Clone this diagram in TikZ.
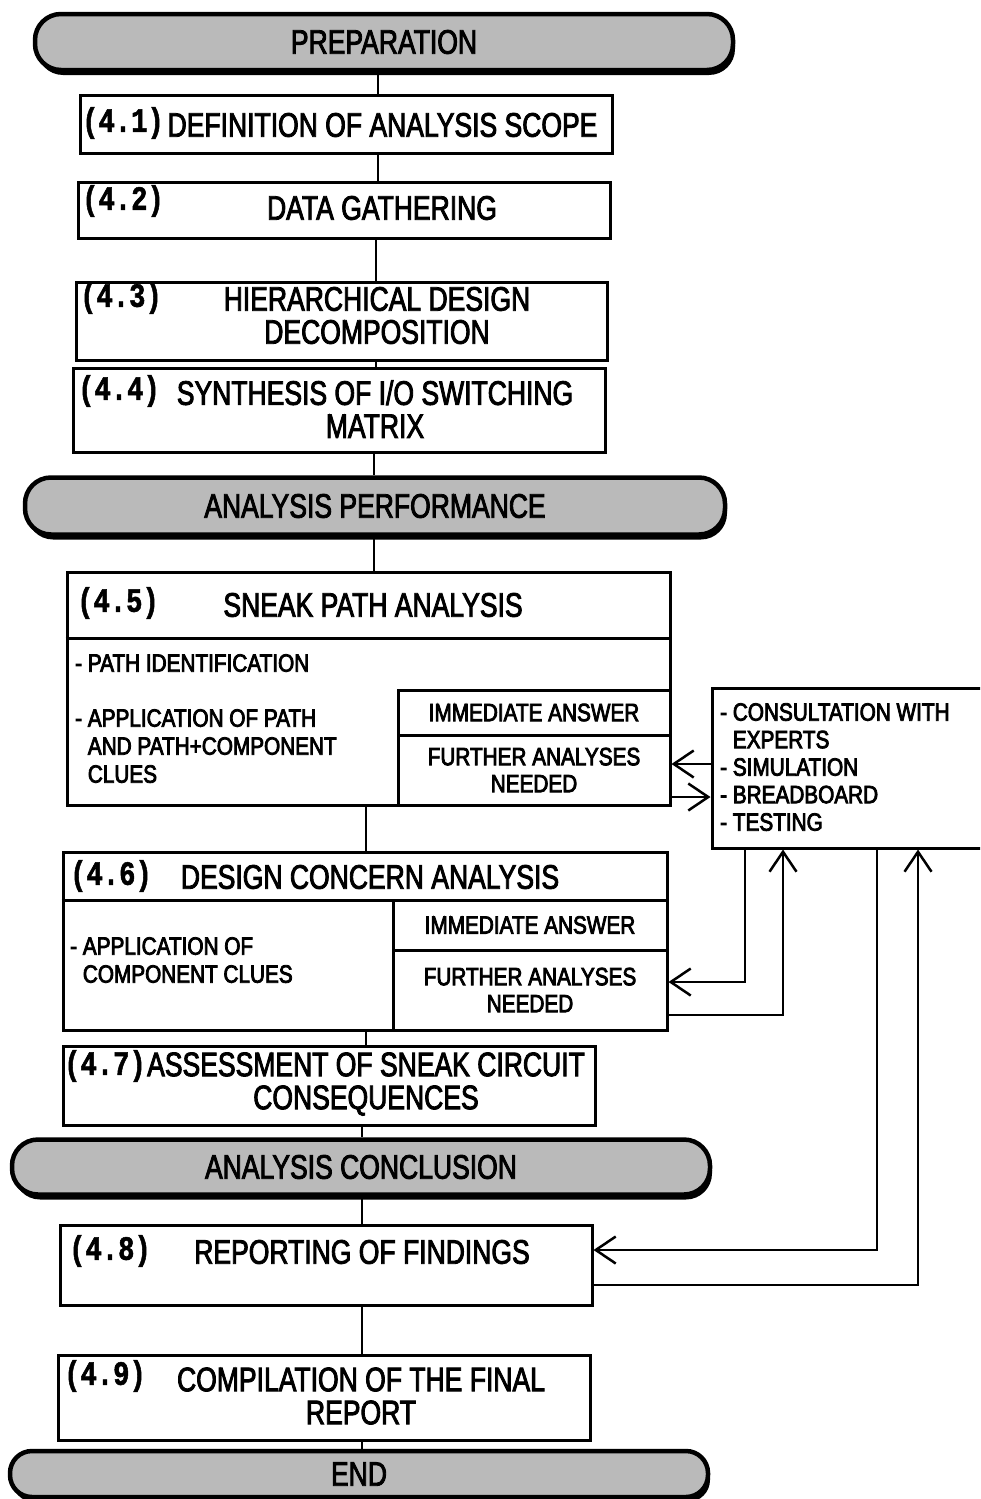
\documentclass[tikz,border=0pt]{standalone}
\usepackage{fontspec}
\usetikzlibrary{arrows.meta,shadows}
\newfontfamily\condfont{Liberation Sans}[FakeStretch=0.78, FakeBold=2.5]
\newfontfamily\bodyfont{Liberation Sans}[FakeStretch=0.83, FakeBold=3.2]
\newfontfamily\numfont{Liberation Mono}[FakeStretch=0.8, FakeBold=1.5]

\tikzset{
  box/.style={draw, line width=3pt, inner sep=0pt},
  term/.style={draw, line width=4.5pt, fill=black!27, inner sep=0pt,
    font=\condfont\fontsize{34}{35}\selectfont,
    drop shadow={shadow xshift=2pt, shadow yshift=-5pt, fill=black, opacity=1}},
  main/.style={font=\condfont\fontsize{34}{33}\selectfont, align=center, inner sep=0pt},
  num/.style={font=\numfont\bfseries\fontsize{34}{36}\selectfont, anchor=west, inner sep=0pt},
  body/.style={font=\bodyfont\fontsize{25}{28}\selectfont, align=left, inner sep=0pt, anchor=north west},
  cell/.style={font=\bodyfont\fontsize{25}{27}\selectfont, align=center, inner sep=0pt},
  conn/.style={line width=2.5pt},
  arr/.style={line width=2.5pt, -{Straight Barb[length=20pt,width=27pt]}},
}

\begin{document}
\begin{tikzpicture}[x=1pt, y=-1pt]
\useasboundingbox (0,0) rectangle (980,1499);
\fill[white] (0,0) rectangle (980,1499);
\clip (0,0) rectangle (980,1499);

% phase terminators
\node[term, minimum width=698pt, minimum height=56pt, rounded corners=26pt] (prep) at (384,42) {PREPARATION};
\node[term, minimum width=700pt, minimum height=57pt, rounded corners=26pt] (perf) at (375,506) {ANALYSIS PERFORMANCE};
\node[term, minimum width=698pt, minimum height=55pt, rounded corners=26pt] (concl) at (361,1167) {ANALYSIS CONCLUSION};
\node[term, minimum width=698pt, minimum height=46pt, rounded corners=22pt] (finish) at (359,1474) {END};

% preparation steps
\node[box, minimum width=532pt, minimum height=58pt] (b41) at (346,124) {};
\node[num] (n41) at (82,123) {(4.1)};
\node[main] (t41) at (382.5,125) {DEFINITION OF ANALYSIS SCOPE};

\node[box, minimum width=532pt, minimum height=56pt] (b42) at (344,210) {};
\node[num] (n42) at (82,201) {(4.2)};
\node[main] (t42) at (382,208) {DATA GATHERING};

\node[box, minimum width=531pt, minimum height=78pt] (b43) at (341.5,321) {};
\node[num] (n43) at (80,298) {(4.3)};
\node[main] (t43) at (377,315.5) {HIERARCHICAL DESIGN\\DECOMPOSITION};

\node[box, minimum width=532pt, minimum height=84pt] (b44) at (339,410) {};
\node[num] (n44) at (78,391) {(4.4)};
\node[main] (t44) at (375,409) {SYNTHESIS OF I/O SWITCHING\\MATRIX};

% sneak path analysis
\node[box, minimum width=603pt, minimum height=233pt] (b45) at (368.5,688.5) {};
\draw[line width=3pt] (b45.west |- 0,638) -- (b45.east |- 0,638);
\node[num] (n45) at (77,603) {(4.5)};
\node[main] (t45) at (373,605) {SNEAK PATH ANALYSIS};
\node[body] (p45a) at (75,654) {- PATH IDENTIFICATION};
\node[body] (p45b) at (75,709) {- APPLICATION OF PATH\\\phantom{- }AND PATH+COMPONENT\\\phantom{- }CLUES};
\node[box, cell, minimum width=272pt, minimum height=45pt] (b45a) at (534,712.5) {IMMEDIATE ANSWER};
\node[box, cell, minimum width=272pt, minimum height=70pt] (b45b) at (534,770) {FURTHER ANALYSES\\NEEDED};

% further analyses
\node[box, minimum width=288pt, minimum height=160pt] (side) at (856,768) {};
\node[body, font=\bodyfont\fontsize{25}{27.5}\selectfont] (sidetext) at (720,703) {- CONSULTATION WITH\\\phantom{- }EXPERTS\\- SIMULATION\\- BREADBOARD\\- TESTING};

% design concern analysis
\node[box, minimum width=604pt, minimum height=178pt] (b46) at (365,941) {};
\draw[line width=3pt] (b46.west |- 0,900) -- (b46.east |- 0,900);
\node[num] (n46) at (70,876) {(4.6)};
\node[main] (t46) at (370,877) {DESIGN CONCERN ANALYSIS};
\node[body] (p46) at (70,937) {- APPLICATION OF\\\phantom{- }COMPONENT CLUES};
\node[box, cell, minimum width=274pt, minimum height=50pt] (b46a) at (530,925) {IMMEDIATE ANSWER};
\node[box, cell, minimum width=274pt, minimum height=80pt] (b46b) at (530,990) {FURTHER ANALYSES\\NEEDED};

% assessment
\node[box, minimum width=532pt, minimum height=79pt] (b47) at (329,1085.5) {};
\node[num] (n47) at (64,1066) {(4.7)};
\node[main] (t47) at (366,1084) {ASSESSMENT OF SNEAK CIRCUIT\\CONSEQUENCES};

% reporting
\node[box, minimum width=532pt, minimum height=80pt] (b48) at (326,1265) {};
\node[num] (n48) at (69,1251) {(4.8)};
\node[main] (t48) at (362,1252) {REPORTING OF FINDINGS};

\node[box, minimum width=532pt, minimum height=85pt] (b49) at (324,1397.5) {};
\node[num] (n49) at (64,1376) {(4.9)};
\node[main] (t49) at (361,1396) {COMPILATION OF THE FINAL\\REPORT};

% main flow
\coordinate (sA) at (378,0);
\coordinate (sB) at (376,0);
\coordinate (sC) at (374,0);
\coordinate (sD) at (366,0);
\coordinate (sE) at (362,0);
\draw[conn] (prep.south -| sA) -- (b41.north -| sA);
\draw[conn] (b41.south -| sA) -- (b42.north -| sA);
\draw[conn] (b42.south -| sB) -- (b43.north -| sB);
\draw[conn] (b43.south -| sB) -- (b44.north -| sB);
\draw[conn] (b44.south -| sC) -- (perf.north -| sC);
\draw[conn] (perf.south -| sC) -- (b45.north -| sC);
\draw[conn] (b45.south -| sD) -- (b46.north -| sD);
\draw[conn] (b46.south -| sD) -- (b47.north -| sD);
\draw[conn] (b47.south -| sE) -- (concl.north -| sE);
\draw[conn] (concl.south -| sE) -- (b48.north -| sE);
\draw[conn] (b48.south -| sE) -- (b49.north -| sE);
\draw[conn] (b49.south -| sE) -- (finish.north -| sE);

% feedback loops
\coordinate (fa) at (745,0);
\coordinate (fb) at (783,0);
\coordinate (fc) at (877,0);
\coordinate (fd) at (918,0);
\draw[arr] (side.west |- 0,764) -- (b45b.east |- 0,764);
\draw[arr] (b45b.east |- 0,797) -- (side.west |- 0,797);
\draw[arr] (side.south -| fa) |- (b46b.east |- 0,982);
\draw[arr] (b46b.east |- 0,1015) -| (side.south -| fb);
\draw[arr] (side.south -| fc) |- (b48.east |- 0,1250);
\draw[arr] (b48.east |- 0,1285) -| (side.south -| fd);
\end{tikzpicture}
\end{document}
